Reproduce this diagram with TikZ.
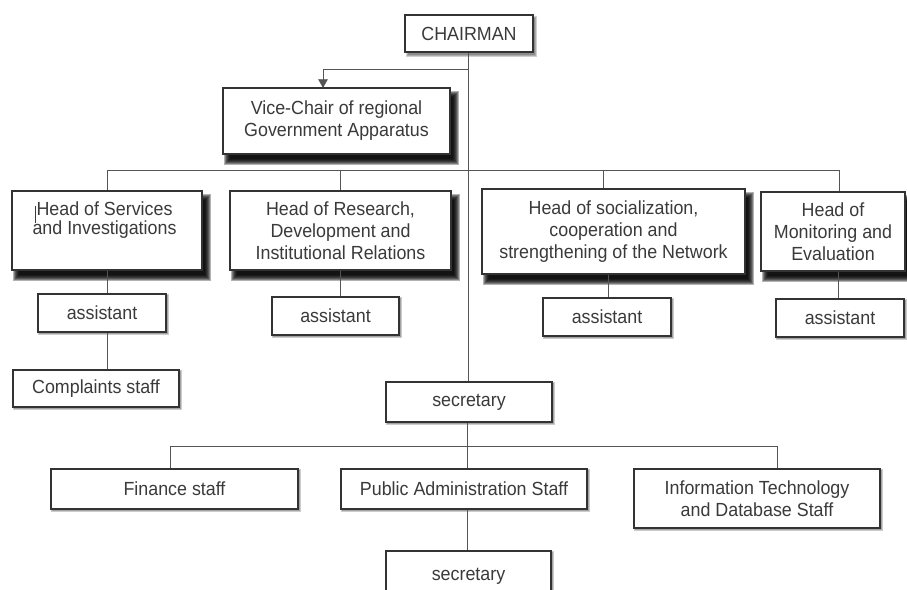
\documentclass[tikz,border=0pt]{standalone}
\usepackage{fontspec}
\newfontfamily\chartfont{Liberation Sans}[FakeStretch=0.94]
\pgfdeclarelayer{paper}
\pgfdeclarelayer{shade}
\pgfsetlayers{paper,shade,main}
\definecolor{ink}{HTML}{3A3A3A}
\definecolor{edge}{HTML}{333333}
\definecolor{wire}{HTML}{555555}
\tikzset{
  box/.style={draw=edge, line width=1.1pt, fill=white, rectangle, inner sep=0pt,
    text=ink, align=center, font=\chartfont\fontsize{19}{22}\selectfont},
  textonly/.style={text=ink, align=center, inner sep=0pt,
    font=\chartfont\fontsize{19}{19}\selectfont},
  conn/.style={draw=wire, line width=1pt},
}
% place a box by its centre, width and height
\newcommand{\orgbox}[6]{%
  \node[box, minimum width=#4pt, minimum height=#5pt] (#1) at (#2,#3) {#6};}
% soft drop shadow: node, x offset, y offset (down), spread list, opacity per layer
\newcommand{\softshadow}[5]{%
  \begin{pgfonlayer}{shade}
  \foreach \r in {#4}{%
    \fill[black, opacity=#5]
      ([shift={(#2-\r,#3-\r)}]#1.north west) rectangle ([shift={(#2+\r,#3+\r)}]#1.south east);}
  \end{pgfonlayer}}
\newcommand{\heavyshadow}[1]{\softshadow{#1}{5}{7}{-3,-2,-1,0,1,2,3}{0.3}}
\newcommand{\lightshadow}[1]{\softshadow{#1}{2.5}{3}{-1,0,1}{0.18}}
\newcommand{\thinshadow}[1]{\softshadow{#1}{1.5}{1.5}{-0.5,0.5}{0.2}}
\begin{document}
\begin{tikzpicture}[x=1pt,y=-1pt]
\begin{pgfonlayer}{paper}
\path[use as bounding box, fill=white] (0,0) rectangle (907,589);
\end{pgfonlayer}
\clip (0,0) rectangle (907,589);

% bus lines and junctions
\coordinate (busTop) at (0,170);
\coordinate (busLow) at (0,446);
\coordinate (vcTurn) at (0,69);

% top of the hierarchy
\orgbox{chair}{469}{33.5}{128}{37}{CHAIRMAN}
\orgbox{vice}{336.5}{121}{227}{66}{Vice-Chair of regional\\Government Apparatus}
\coordinate (vcIn) at ([xshift=-13.5pt]vice.north);

% heads of units
\orgbox{hs}{107}{230.5}{190}{79}{}
\node[textonly] (hs-label) at (104.5,220) {Head of Services\\and Investigations};
\orgbox{hr}{340.5}{230.5}{221}{79}{Head of Research,\\Development and\\Institutional Relations}
\orgbox{hsoc}{613.5}{231.5}{263}{85}{Head of socialization,\\cooperation and\\strengthening of the Network}
\orgbox{hm}{833}{231.5}{144}{79}{Head of\\Monitoring and\\Evaluation}

% assistants and staff under the heads
\orgbox{a1}{102}{313}{128}{38}{assistant}
\orgbox{cs}{96}{388.5}{166}{37}{Complaints staff}
\orgbox{a2}{335.5}{316}{127}{38}{assistant}
\orgbox{a3}{607}{317}{128}{38}{assistant}
\orgbox{a4}{840}{318}{128}{38}{assistant}

% secretariat branch
\orgbox{sec1}{469}{402}{166}{40}{secretary}
\orgbox{fin}{174.5}{489}{247}{40}{Finance staff}
\orgbox{pub}{464}{489}{246}{40}{Public Administration Staff}
\orgbox{it}{757}{498.5}{246}{59}{Information Technology\\and Database Staff}
\orgbox{sec2}{468.5}{576}{165}{50}{secretary}

% shadows
\lightshadow{chair}
\heavyshadow{vice}
\heavyshadow{hs}
\heavyshadow{hr}
\heavyshadow{hsoc}
\heavyshadow{hm}
\foreach \n in {a1,cs,a2,a3,a4,sec1,fin,pub,it,sec2}{\thinshadow{\n}}

% text cursor mark beside the first head
\draw[ink, line width=0.6pt] (35,206) -- (35,223);

% chairman to vice-chair
\draw[conn] ([xshift=-1pt]chair.south |- vcTurn) -- (vcIn |- vcTurn)
  -- (vcIn);
\draw[wire, fill=wire] (vcIn) -- ++(-4.5,-8) -- ++(9,0) -- cycle;
\draw[conn] ([xshift=-1pt]chair.south) -- ([xshift=-1pt]chair.south |- busTop);

% upper bus
\draw[conn] (hs.north |- busTop) -- ([xshift=6pt]hm.north |- busTop);
\draw[conn] (hs.north |- busTop) -- (hs.north);
\draw[conn] ([xshift=-0.5pt]hr.north |- busTop) -- ([xshift=-0.5pt]hr.north);
\draw[conn] ([xshift=-10.5pt]hsoc.north |- busTop) -- ([xshift=-10.5pt]hsoc.north);
\draw[conn] ([xshift=6pt]hm.north |- busTop) -- ([xshift=6pt]hm.north);

% heads to assistants
\draw[conn] (hs.south) -- (hs.south |- a1.north);
\draw[conn] (a1.south -| hs.south) -- (cs.north -| hs.south);
\draw[conn] ([xshift=-0.5pt]hr.south) -- ([xshift=-0.5pt]hr.south |- a2.north);
\draw[conn] ([xshift=-5.5pt]hsoc.south) -- ([xshift=-5.5pt]hsoc.south |- a3.north);
\draw[conn] ([xshift=5pt]hm.south) -- ([xshift=5pt]hm.south |- a4.north);

% chairman line down to the secretary
\draw[conn] ([xshift=-1pt]chair.south |- busTop) -- ([xshift=-1pt]sec1.north);

% lower bus
\draw[conn] ([xshift=-2pt]sec1.south) -- ([xshift=-2pt]sec1.south |- busLow);
\draw[conn] ([xshift=-4.5pt]fin.north |- busLow) -- ([xshift=20pt]it.north |- busLow);
\draw[conn] ([xshift=-4.5pt]fin.north |- busLow) -- ([xshift=-4.5pt]fin.north);
\draw[conn] ([xshift=3pt]pub.north |- busLow) -- ([xshift=3pt]pub.north);
\draw[conn] ([xshift=20pt]it.north |- busLow) -- ([xshift=20pt]it.north);
\draw[conn] ([xshift=3pt]pub.south) -- ([xshift=3pt]pub.south |- sec2.north);
\end{tikzpicture}
\end{document}
